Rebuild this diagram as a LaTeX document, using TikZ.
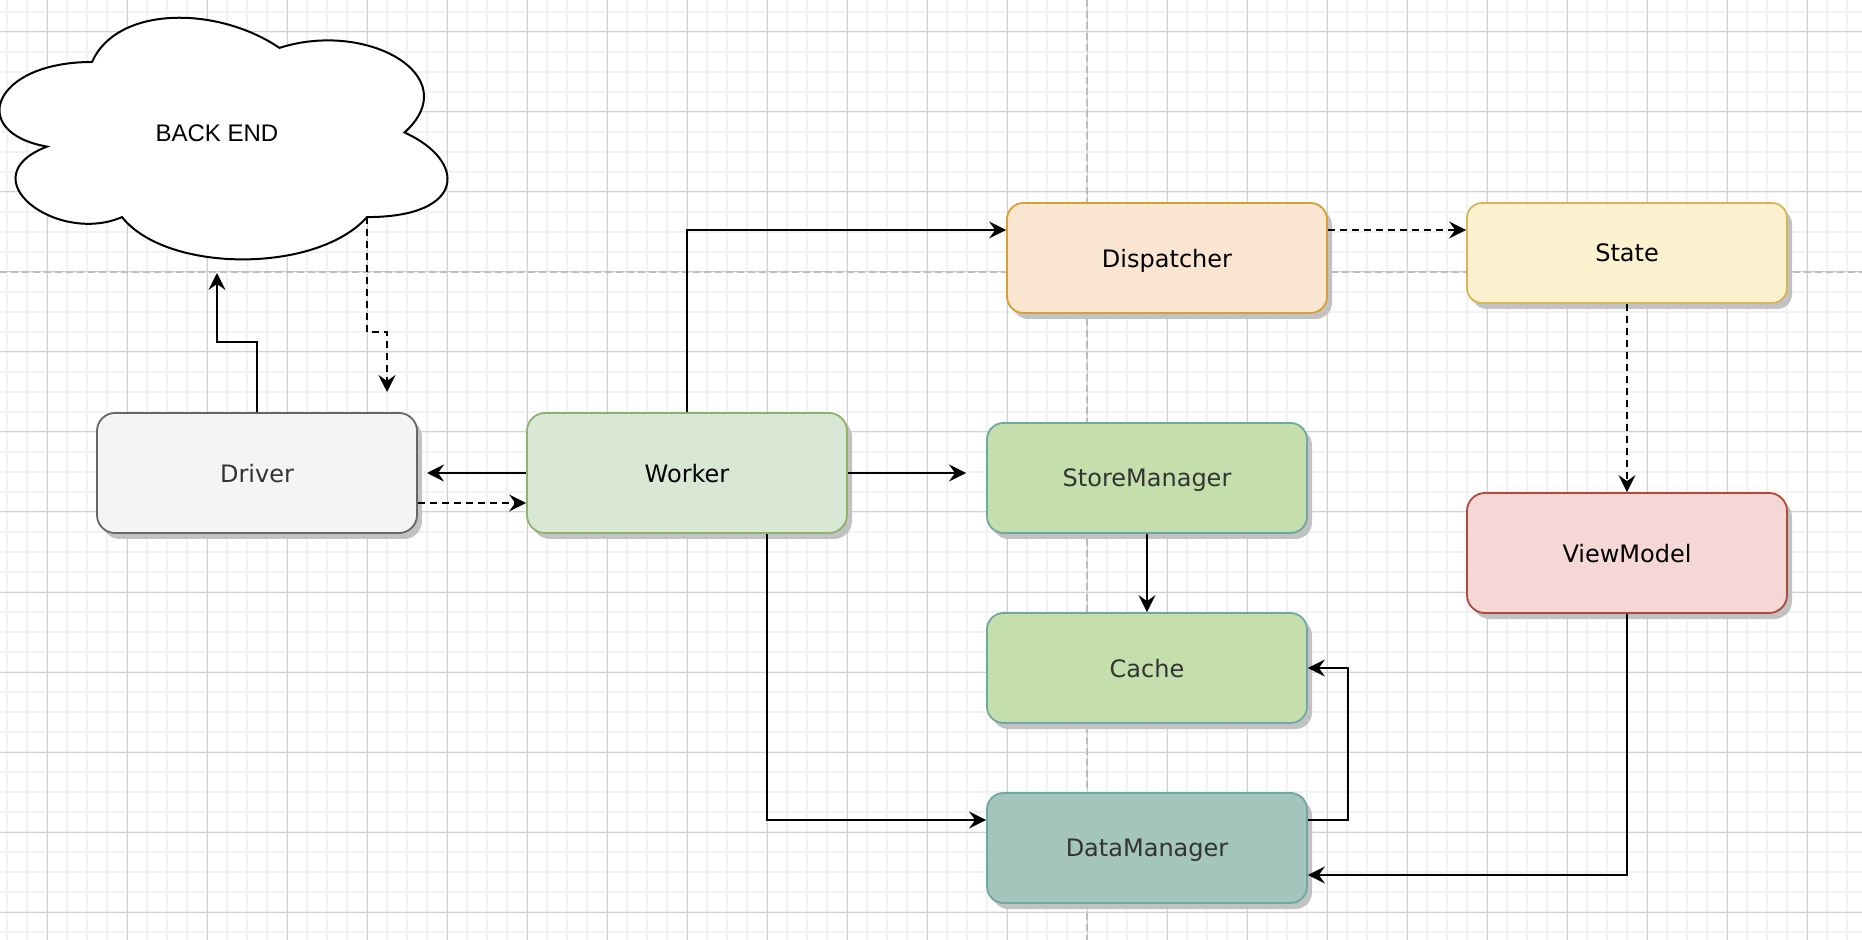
\documentclass[tikz,border=0pt]{standalone}
\usepackage{fontspec}
\setmainfont{DejaVu Sans}
\newfontfamily\cloudfont{Liberation Sans}
\usetikzlibrary{arrows.meta,shadows}
\definecolor{gridminor}{HTML}{F2F2F2}
\definecolor{gridmajor}{HTML}{D0D0D0}
\definecolor{pagebreak}{HTML}{BDBDBD}
\definecolor{shadowgray}{HTML}{C2C2C2}
\definecolor{txtgray}{HTML}{333333}
\definecolor{drvfill}{HTML}{F4F4F4}
\definecolor{drvline}{HTML}{666666}
\definecolor{wrkfill}{HTML}{D9E7D5}
\definecolor{wrkline}{HTML}{8CB36E}
\definecolor{dspfill}{HTML}{FAE6D0}
\definecolor{dspline}{HTML}{D6A037}
\definecolor{stfill}{HTML}{FCF1CF}
\definecolor{stline}{HTML}{D6B656}
\definecolor{vmfill}{HTML}{F5D8D5}
\definecolor{vmline}{HTML}{AE4A3C}
\definecolor{smfill}{HTML}{C4DFAC}
\definecolor{tealline}{HTML}{6FA8A0}
\definecolor{dmfill}{HTML}{A3C5BC}
\tikzset{
  gridminorline/.style={draw=gridminor, line width=0.75pt},
  gridmajorline/.style={draw=gridmajor, line width=0.5pt},
  pagebreakline/.style={draw=pagebreak, line width=0.6pt, dash pattern=on 3.5pt off 2pt},
  box/.style={draw, line width=0.9pt, rectangle, minimum width=160pt,
    font=\fontsize{12}{14}\selectfont, text depth=0pt,
    drop shadow={shadow xshift=2.5pt, shadow yshift=-3pt, fill=shadowgray, opacity=1}},
  htall/.style={minimum height=60pt, rounded corners=9pt},
  hmid/.style={minimum height=55pt, rounded corners=8.25pt},
  hlow/.style={minimum height=50pt, rounded corners=7.5pt},
  conn/.style={line width=1pt, -{Stealth[length=8.5pt,width=8.5pt,inset=3pt]}},
  dsh/.style={dash pattern=on 3.5pt off 2.5pt},
}
\begin{document}
\begin{tikzpicture}[x=0.5pt,y=-0.5pt]
\useasboundingbox (0,0) rectangle (1862,940);
\fill[white] (0,0) rectangle (1862,940);
% grid
\foreach \i in {0,...,93} {\draw[gridminorline] ({7+20*\i},0) -- ({7+20*\i},940);}
\foreach \j in {0,...,46} {\draw[gridminorline] (0,{12+20*\j}) -- (1862,{12+20*\j});}
\foreach \i in {0,...,22} {\draw[gridmajorline] ({47+80*\i},0) -- ({47+80*\i},940);}
\foreach \j in {0,...,11} {\draw[gridmajorline] (0,{32+80*\j}) -- (1862,{32+80*\j});}
\draw[pagebreakline] (1087,0) -- (1087,940);
\draw[pagebreakline] (0,272) -- (1862,272);

% cloud
\draw[line width=1pt, fill=white]
  (92,62) .. controls (-8,62) and (-33,132.5) .. (47,146.6)
  .. controls (-33,177.6) and (57,245.3) .. (122,217.1)
  .. controls (167,273.5) and (317,273.5) .. (367,217.1)
  .. controls (467,217.1) and (467,160.7) .. (404.5,132.5)
  .. controls (467,76.1) and (367,19.7) .. (279.5,47.9)
  .. controls (217,5.6) and (117,5.6) .. (92,62) -- cycle;
\node[font=\cloudfont\fontsize{12}{14}\selectfont] (backend) at (217,133.5) {BACK END};
\coordinate (cloudin) at (217,273);
\coordinate (cloudout) at (367,217.1);

% boxes
\node[box, htall, fill=drvfill, draw=drvline, text=txtgray] (driver) at (257,473) {Driver};
\node[box, htall, fill=wrkfill, draw=wrkline] (worker) at (687,473) {Worker};
\node[box, hmid, fill=dspfill, draw=dspline] (dispatcher) at (1167,258) {Dispatcher};
\node[box, hlow, fill=stfill, draw=stline] (state) at (1627,253) {State};
\node[box, htall, fill=vmfill, draw=vmline] (viewmodel) at (1627,553) {ViewModel};
\node[box, hmid, fill=smfill, draw=tealline, text=txtgray] (storemanager) at (1147,478) {StoreManager};
\node[box, hmid, fill=smfill, draw=tealline, text=txtgray] (cache) at (1147,668) {Cache};
\node[box, hmid, fill=dmfill, draw=tealline, text=txtgray] (datamanager) at (1147,848) {DataManager};

\coordinate (drvin) at (387,392);
\coordinate (wrkleft) at (427,473);
\coordinate (smin) at (966,473);

% connectors
\draw[conn] (driver.north) -- ++(0,-70) -| (cloudin);
\draw[conn, dsh] (cloudout) -- ++(0,115) -| (drvin);
\draw[conn] (worker.west) -- (wrkleft);
\draw[conn, dsh] ([yshift=-15pt]driver.east) -- ([yshift=-15pt]worker.west);
\draw[conn] (worker.north) |- ([yshift=14pt]dispatcher.west);
\draw[conn, dsh] ([yshift=14pt]dispatcher.east) -- ([yshift=11.5pt]state.west);
\draw[conn, dsh] (state.south) -- (viewmodel.north);
\draw[conn] (worker.east) -- (smin);
\draw[conn] (storemanager.south) -- (cache.north);
\draw[conn] ([xshift=40pt]worker.south) |- ([yshift=14pt]datamanager.west);
\draw[conn] ([yshift=14pt]datamanager.east) -- ++(40,0) |- (cache.east);
\draw[conn] (viewmodel.south) |- ([yshift=-13.5pt]datamanager.east);
\end{tikzpicture}
\end{document}
